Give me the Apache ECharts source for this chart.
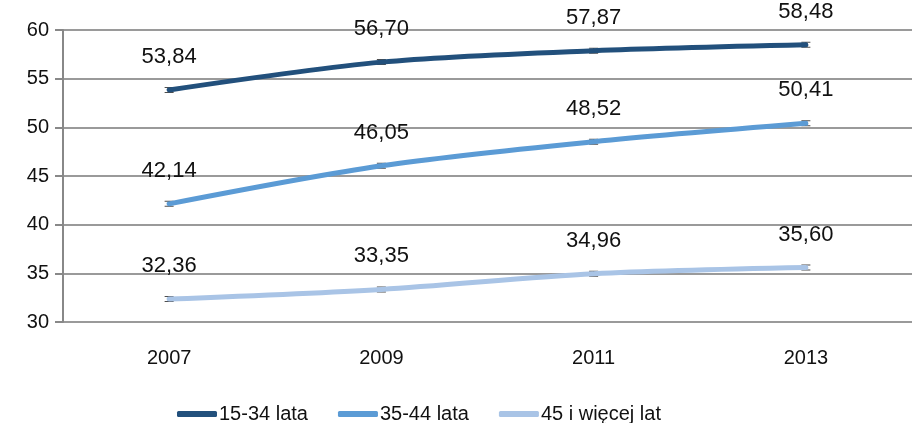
<!DOCTYPE html>
<html><head><meta charset="utf-8">
<script src="https://cdn.jsdelivr.net/npm/echarts@6/dist/echarts.min.js"></script>
<style>html,body{margin:0;padding:0;background:#fff}#c{width:912px;height:423px}</style>
</head><body><div id="c"></div>
<script>
const categories = ['2007', '2009', '2011', '2013'];
const seriesNames = ['15-34 lata', '35-44 lata', '45 i więcej lat'];
const s1 = [53.84, 56.70, 57.87, 58.48];
const s2 = [42.14, 46.05, 48.52, 50.41];
const s3 = [32.36, 33.35, 34.96, 35.60];
const colors = ['#22507C', '#5B9BD5', '#A9C4E6'];
const font = 'Liberation Sans, Arial, sans-serif';
const errPath = 'path://M0,0H8V1H4.5V5H8V6H0V5H3.5V1H0Z';

const chart = echarts.init(document.getElementById('c'));
function mk(name, data, color) {
  return {
    name: name, type: 'line', data: data, smooth: 0.3, z: 3,
    symbol: 'circle', symbolSize: 0.1, showSymbol: true,
    lineStyle: {width: 5, color: color, cap: 'round'},
    itemStyle: {color: color},
    label: {show: true, position: 'top', distance: 22, color: '#111', fontSize: 22, fontFamily: font,
      formatter: p => p.value.toFixed(2).replace('.', ',')},
    labelLayout: {hideOverlap: false}
  };
}
function err(data) {
  return {
    type: 'scatter', data: data, z: 1, symbol: errPath, symbolSize: [9, 6],
    itemStyle: {color: '#222'}, silent: true
  };
}
chart.setOption({
  animation: false,
  color: colors,
  grid: {left: 63, right: -16, top: 30, bottom: 101},
  legend: {
    top: 399, left: 172, itemWidth: 40, itemHeight: 6, itemGap: 30,
    icon: 'roundRect',
    textStyle: {fontSize: 20, fontFamily: font, color: '#111', padding: [0, 0, 0, -3]},
    data: seriesNames.map((n, i) => ({name: n, itemStyle: {color: colors[i]}}))
  },
  xAxis: {
    type: 'category', data: categories, boundaryGap: true,
    axisLine: {show: false}, axisTick: {show: false},
    axisLabel: {fontSize: 20, fontFamily: font, color: '#111', margin: 26}
  },
  yAxis: {
    type: 'value', min: 30, max: 60, interval: 5,
    axisLine: {show: true, lineStyle: {color: '#888', width: 2}},
    axisTick: {show: true, length: 8, lineStyle: {color: '#888', width: 2}},
    axisLabel: {fontSize: 20, fontFamily: font, color: '#111', margin: 14},
    splitLine: {lineStyle: {color: '#9a9a9a', width: 2}}
  },
  series: [
    err(s1), err(s2), err(s3),
    mk(seriesNames[0], s1, colors[0]), mk(seriesNames[1], s2, colors[1]), mk(seriesNames[2], s3, colors[2])
  ]
});
</script></body></html>
